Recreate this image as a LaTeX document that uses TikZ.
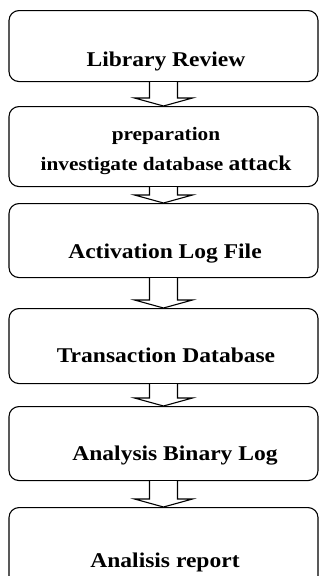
\documentclass[tikz,border=0pt]{standalone}
\usepackage{fontspec}
\setmainfont{Liberation Serif}[FakeStretch=1.12]
\usepackage{tikz}
\usetikzlibrary{calc}

% hollow block arrow from the bottom of one box to the top of the next
\newcommand{\flowarrow}[2]{%
  \draw[line width=1.1pt, fill=white]
    ($(#1.south)+(-14,0)$) -- ($(#2.north)+(-14,-8)$) -- ($(#2.north)+(-29,-8)$)
    -- (#2.north) -- ($(#2.north)+(29,-8)$) -- ($(#2.north)+(14,-8)$)
    -- ($(#1.south)+(14,0)$);}

\begin{document}
\begin{tikzpicture}[x=1pt, y=-1pt,
    stagebox/.style={draw, line width=1.1pt, rounded corners=10pt, minimum width=309pt, anchor=north, inner sep=0pt},
    stagetext/.style={anchor=base, font=\fontsize{21}{25}\selectfont\bfseries}]
  \useasboundingbox (0,0) rectangle (320,576);
  \clip (0,0) rectangle (320,576);

  \node[stagebox, minimum height=71pt] (review) at (163.5,10) {};
  \node[stagebox, minimum height=80pt] (prep) at (163.5,106) {};
  \node[stagebox, minimum height=74pt] (activation) at (163.5,203) {};
  \node[stagebox, minimum height=75pt] (transaction) at (163.5,308) {};
  \node[stagebox, minimum height=74pt] (binlog) at (163.5,406) {};
  \node[stagebox, minimum height=80pt] (report) at (163.5,507) {};

  \node[stagetext] (reviewtxt) at (166,66) {Library Review};
  \node[stagetext, font=\fontsize{19}{25}\selectfont\bfseries] (preptxt) at (166,140) {preparation};
  \node[stagetext, font=\fontsize{19}{25}\selectfont\bfseries] (preptxtb) at (166,170)
    {investigate database {\fontsize{21}{25}\selectfont attack}};
  \node[stagetext] (activationtxt) at (165,258) {Activation Log File};
  \node[stagetext] (transactiontxt) at (166,362) {Transaction Database};
  \node[stagetext] (binlogtxt) at (175,460) {Analysis Binary Log};
  \node[stagetext] (reporttxt) at (165,567) {Analisis report};

  \flowarrow{review}{prep}
  \flowarrow{prep}{activation}
  \flowarrow{activation}{transaction}
  \flowarrow{transaction}{binlog}
  \flowarrow{binlog}{report}
\end{tikzpicture}
\end{document}
